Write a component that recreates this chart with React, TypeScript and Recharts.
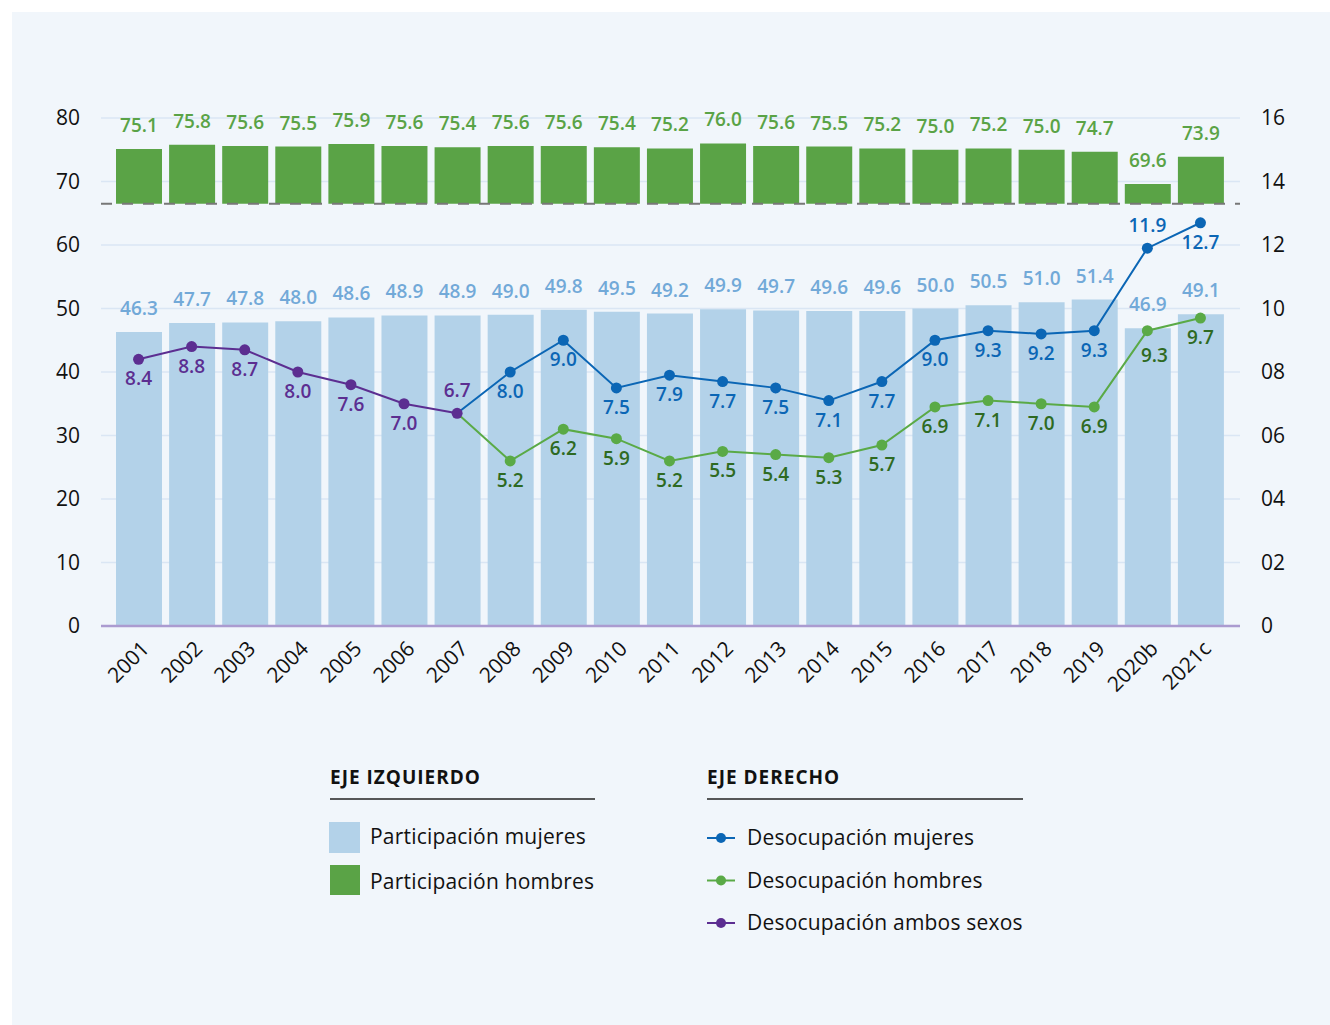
import { ComposedChart, Bar, Line, XAxis, YAxis, CartesianGrid, ReferenceLine, LabelList } from 'recharts';

const years = ['2001', '2002', '2003', '2004', '2005', '2006', '2007', '2008', '2009', '2010', '2011', '2012', '2013', '2014', '2015', '2016', '2017', '2018', '2019', '2020b', '2021c'];
const participacionMujeres = [46.3, 47.7, 47.8, 48.0, 48.6, 48.9, 48.9, 49.0, 49.8, 49.5, 49.2, 49.9, 49.7, 49.6, 49.6, 50.0, 50.5, 51.0, 51.4, 46.9, 49.1];
const participacionHombres = [75.1, 75.8, 75.6, 75.5, 75.9, 75.6, 75.4, 75.6, 75.6, 75.4, 75.2, 76.0, 75.6, 75.5, 75.2, 75.0, 75.2, 75.0, 74.7, 69.6, 73.9];
const desocupacionAmbos = [8.4, 8.8, 8.7, 8.0, 7.6, 7.0, 6.7, null, null, null, null, null, null, null, null, null, null, null, null, null, null];
const desocupacionMujeres = [null, null, null, null, null, null, 6.7, 8.0, 9.0, 7.5, 7.9, 7.7, 7.5, 7.1, 7.7, 9.0, 9.3, 9.2, 9.3, 11.9, 12.7];
const desocupacionHombres = [null, null, null, null, null, null, 6.7, 5.2, 6.2, 5.9, 5.2, 5.5, 5.4, 5.3, 5.7, 6.9, 7.1, 7.0, 6.9, 9.3, 9.7];
const leftTicks = [0, 10, 20, 30, 40, 50, 60, 70, 80];
const rightTicks = [0, 2, 4, 6, 8, 10, 12, 14, 16];

// the men's bars are cut at this value (broken axis)
const BREAK = 66.5;

const data = years.map((year, i) => ({
    year,
    mujeres: participacionMujeres[i],
    hombres: participacionHombres[i],
    ambos: desocupacionAmbos[i],
    desocM: desocupacionMujeres[i],
    desocH: desocupacionHombres[i],
}));

const FONT = '"Open Sans", sans-serif';
const C = {
    bg: '#f1f6fb',
    barM: '#b3d2e9',
    barH: '#5aa346',
    labM: '#72a9d8',
    blue: '#0b66b5',
    green: '#5aaa46',
    greenLab: '#2e6a22',
    purple: '#5c2e91',
    axis: '#ab9bd0',
};

function XTick(props: any) {
    const { x, y, payload } = props;
    return (
        <g transform={`translate(${x + 12},${y + 24})`}>
            <text textAnchor="end" transform="rotate(-45)" fontSize={21} fontFamily={FONT} fill="#111">
                {payload.value}
            </text>
        </g>
    );
}

const barLabel = (color: string) => (props: any) => {
    const { x, y, width, value } = props;
    if (value == null) return null;
    return (
        <text x={x + width / 2} y={y - 17} textAnchor="middle" fontSize={19} fontWeight={600} fontFamily={FONT} fill={color}>
            {Number(value).toFixed(1)}
        </text>
    );
};

// labels sit below the point by default; per-index overrides move some of them
type Nudge = { dx?: number; dy: number };
const lineLabel = (color: string, nudges: Record<number, Nudge>, skip: number[]) => (props: any) => {
    const { x, y, value, index } = props;
    if (value == null || skip.includes(index)) return null;
    const n = nudges[index] ?? { dy: 26 };
    return (
        <text x={x + (n.dx ?? 0)} y={y + n.dy} textAnchor="middle" fontSize={19} fontWeight={600} fontFamily={FONT} fill={color}>
            {Number(value).toFixed(1)}
        </text>
    );
};

const lineDot = (color: string, skip: number[]) => (props: any) => {
    const { cx, cy, index, value } = props;
    if (value == null || cy == null || skip.includes(index)) return <g key={`d-${index}`} />;
    return <circle key={`d-${index}`} cx={cx} cy={cy} r={5.5} fill={color} stroke="none" />;
};

function Legend() {
    const txt = { fontFamily: FONT, fontSize: 21, fill: '#111', letterSpacing: 0.2 };
    const head = { fontFamily: FONT, fontSize: 19, fontWeight: 700, fill: '#111', letterSpacing: 1 };
    const lines = [
        { label: 'Desocupación mujeres', color: C.blue, cy: 826, by: 833 },
        { label: 'Desocupación hombres', color: C.green, cy: 868.5, by: 876 },
        { label: 'Desocupación ambos sexos', color: C.purple, cy: 911, by: 918 },
    ];
    return (
        <svg width={1318} height={1013} style={{ position: 'absolute', left: 0, top: 0, pointerEvents: 'none' }}>
            <text x={318} y={772} {...head}>EJE IZQUIERDO</text>
            <line x1={318} x2={583} y1={787} y2={787} stroke="#222" strokeWidth={1.5} />
            <rect x={317} y={810} width={31} height={31} fill={C.barM} />
            <text x={358} y={832} {...txt}>Participación mujeres</text>
            <rect x={318} y={853} width={30} height={30} fill={C.barH} />
            <text x={358} y={877} {...txt}>Participación hombres</text>

            <text x={695} y={772} {...head}>EJE DERECHO</text>
            <line x1={695} x2={1011} y1={787} y2={787} stroke="#222" strokeWidth={1.5} />
            {lines.map((l) => (
                <g key={l.label}>
                    <line x1={695} x2={723} y1={l.cy} y2={l.cy} stroke={l.color} strokeWidth={2} />
                    <circle cx={709} cy={l.cy} r={5} fill={l.color} />
                    <text x={735} y={l.by} {...txt}>{l.label}</text>
                </g>
            ))}
        </svg>
    );
}

export default function App() {
    return (
        <div style={{ position: 'fixed', left: 12, top: 12, right: 0, bottom: 0, background: C.bg, fontFamily: FONT }}>
            <ComposedChart
                width={1318}
                height={720}
                data={data}
                margin={{ top: 106, right: 30, left: 29, bottom: 26 }}
                style={{ position: 'absolute', left: 0, top: 0 }}
            >
                <CartesianGrid xAxisId="a" yAxisId="left" vertical={false} stroke="#dae6f4" strokeWidth={1.5} />
                <XAxis
                    xAxisId="a"
                    dataKey="year"
                    interval={0}
                    height={80}
                    padding={{ left: 11, right: 13 }}
                    axisLine={{ stroke: C.axis, strokeWidth: 2.5 }}
                    tickLine={false}
                    tickSize={0}
                    tickMargin={0}
                    tick={<XTick />}
                />
                <XAxis xAxisId="b" dataKey="year" hide padding={{ left: 11, right: 13 }} />
                <YAxis
                    yAxisId="left"
                    domain={[0, 80]}
                    ticks={leftTicks}
                    width={60}
                    axisLine={false}
                    tickLine={false}
                    tickSize={0}
                    tickMargin={21}
                    tick={{ fontSize: 21, fill: '#111', fontFamily: FONT }}
                />
                <YAxis
                    yAxisId="right"
                    orientation="right"
                    domain={[0, 16]}
                    ticks={rightTicks}
                    width={60}
                    axisLine={false}
                    tickLine={false}
                    tickSize={0}
                    tickMargin={21}
                    tickFormatter={(v: number) => (v === 0 ? '0' : String(v).padStart(2, '0'))}
                    tick={{ fontSize: 21, fill: '#111', fontFamily: FONT, textAnchor: 'start' }}
                />
                <Bar xAxisId="a" yAxisId="left" dataKey="mujeres" barSize={46} fill={C.barM} isAnimationActive={false}>
                    <LabelList dataKey="mujeres" content={barLabel(C.labM)} />
                </Bar>
                <Bar
                    xAxisId="b"
                    yAxisId="left"
                    dataKey={(d: any) => [BREAK, d.hombres]}
                    barSize={46}
                    fill={C.barH}
                    isAnimationActive={false}
                >
                    <LabelList dataKey="hombres" content={barLabel(C.barH)} />
                </Bar>
                <ReferenceLine xAxisId="a" yAxisId="left" y={BREAK} stroke="#777" strokeWidth={2} strokeDasharray="11 10" />
                <Line
                    xAxisId="a"
                    yAxisId="right"
                    dataKey="desocH"
                    stroke={C.green}
                    strokeWidth={2}
                    dot={lineDot(C.green, [6])}
                    activeDot={false}
                    label={lineLabel(C.greenLab, { 19: { dx: 7, dy: 31 } }, [6])}
                    isAnimationActive={false}
                />
                <Line
                    xAxisId="a"
                    yAxisId="right"
                    dataKey="desocM"
                    stroke={C.blue}
                    strokeWidth={2}
                    dot={lineDot(C.blue, [6])}
                    activeDot={false}
                    label={lineLabel(C.blue, { 19: { dy: -16 } }, [6])}
                    isAnimationActive={false}
                />
                <Line
                    xAxisId="a"
                    yAxisId="right"
                    dataKey="ambos"
                    stroke={C.purple}
                    strokeWidth={2}
                    dot={lineDot(C.purple, [])}
                    activeDot={false}
                    label={lineLabel(C.purple, { 6: { dy: -16 } }, [])}
                    isAnimationActive={false}
                />
            </ComposedChart>
            <Legend />
        </div>
    );
}
